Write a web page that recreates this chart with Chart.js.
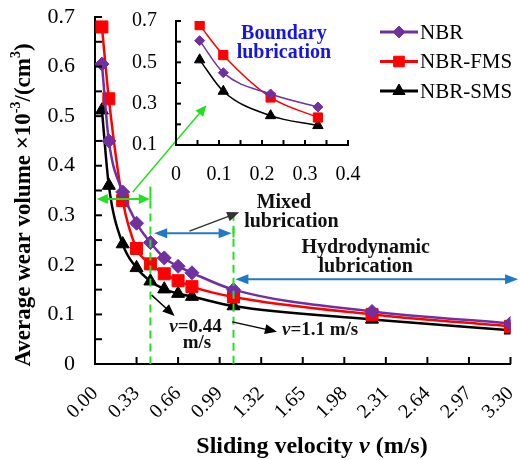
<!DOCTYPE html>
<html><head><meta charset="utf-8">
<script src="https://cdn.jsdelivr.net/npm/chart.js@4/dist/chart.umd.min.js"></script>
<style>
body{margin:0;background:#fff}
#wrap{position:relative;width:520px;height:460px}
canvas{position:absolute;left:0;top:0}
</style></head>
<body><div id="wrap"><canvas id="main" width="520" height="460"></canvas><canvas id="inset" width="520" height="460"></canvas></div>
<script>
// ---- data ----
const velocity = [0.055, 0.11, 0.22, 0.33, 0.44, 0.55, 0.66, 0.77, 1.1, 2.2, 3.3];
const nbr      = [0.605, 0.45, 0.347, 0.284, 0.245, 0.214, 0.197, 0.184, 0.150, 0.106, 0.082];
const nbrFms   = [0.680, 0.535, 0.330, 0.233, 0.202, 0.182, 0.168, 0.156, 0.135, 0.100, 0.076];
const nbrSms   = [0.512, 0.360, 0.242, 0.194, 0.167, 0.151, 0.142, 0.136, 0.117, 0.090, 0.068];
const seriesNames = ['NBR', 'NBR-FMS', 'NBR-SMS'];
const insetCount = 4; // inset shows the first four velocities
const xTickStep = 0.33;
const xMax = 3.3;
const yMax = 0.7;
const insetXMax = 0.4;
const insetYMin = 0.1;

const FONT = '"Liberation Serif","Times New Roman",serif';
const series = [
  {name: seriesNames[0], values: nbr,    color: '#7030a0', style: 'rectRot',  r: 7,   ri: 5,   lr: 6},
  {name: seriesNames[1], values: nbrFms, color: '#ff0000', style: 'rect',     r: 8.5, ri: 6.5, lr: 7.5},
  {name: seriesNames[2], values: nbrSms, color: '#000000', style: 'triangle', r: 7.5, ri: 6,   lr: 7}
];

// ---- helpers ----
function innerTicks(len) {
  return {
    id: 'innerTicks',
    afterDraw(chart) {
      const ctx = chart.ctx, a = chart.chartArea;
      ctx.save();
      ctx.strokeStyle = '#000'; ctx.lineWidth = 2;
      const xs = chart.scales.x, ys = chart.scales.y;
      xs.ticks.forEach(t => {
        const p = xs.getPixelForValue(t.value);
        ctx.beginPath(); ctx.moveTo(p, a.bottom); ctx.lineTo(p, a.bottom - len); ctx.stroke();
      });
      ys.ticks.forEach(t => {
        const p = ys.getPixelForValue(t.value);
        ctx.beginPath(); ctx.moveTo(a.left, p); ctx.lineTo(a.left + len, p); ctx.stroke();
      });
      ctx.restore();
    }
  };
}
function noPad(s) { s.paddingLeft = 0; s.paddingRight = 0; s.paddingTop = 0; s.paddingBottom = 0; }
function arrowHead(ctx, x1, y1, x2, y2, len, wid) {
  const ang = Math.atan2(y2 - y1, x2 - x1);
  ctx.beginPath();
  ctx.moveTo(x2, y2);
  ctx.lineTo(x2 - len * Math.cos(ang) + wid * Math.sin(ang), y2 - len * Math.sin(ang) - wid * Math.cos(ang));
  ctx.lineTo(x2 - len * Math.cos(ang) - wid * Math.sin(ang), y2 - len * Math.sin(ang) + wid * Math.cos(ang));
  ctx.closePath(); ctx.fill();
}
function arrow(ctx, x1, y1, x2, y2, color, lw, len, wid, both) {
  ctx.save();
  ctx.strokeStyle = color; ctx.fillStyle = color; ctx.lineWidth = lw;
  const ang = Math.atan2(y2 - y1, x2 - x1);
  const sx = both ? x1 + (len - 2) * Math.cos(ang) : x1, sy = both ? y1 + (len - 2) * Math.sin(ang) : y1;
  const ex = x2 - (len - 2) * Math.cos(ang), ey = y2 - (len - 2) * Math.sin(ang);
  ctx.beginPath(); ctx.moveTo(sx, sy); ctx.lineTo(ex, ey); ctx.stroke();
  arrowHead(ctx, x1, y1, x2, y2, len, wid);
  if (both) arrowHead(ctx, x2, y2, x1, y1, len, wid);
  ctx.restore();
}
function richText(ctx, parts, x, y, align, size, color) {
  // parts: [text, italic, sup]
  ctx.save();
  ctx.fillStyle = color; ctx.textBaseline = 'middle';
  const fontOf = p => (p[1] ? 'italic ' : '') + 'bold ' + (p[2] ? Math.round(size * 0.62) : size) + 'px ' + FONT;
  let w = 0;
  parts.forEach(p => { ctx.font = fontOf(p); w += ctx.measureText(p[0]).width; });
  let cx = align === 'center' ? x - w / 2 : x;
  ctx.textAlign = 'left';
  parts.forEach(p => {
    ctx.font = fontOf(p);
    ctx.fillText(p[0], cx, p[2] ? y - size * 0.32 : y);
    cx += ctx.measureText(p[0]).width;
  });
  ctx.restore();
  return w;
}

// ---- annotations for main chart ----
const annotations = {
  id: 'annotations',
  afterDraw(chart) {
    const ctx = chart.ctx, xs = chart.scales.x, ys = chart.scales.y;
    const X = v => xs.getPixelForValue(v), Y = v => ys.getPixelForValue(v);
    const green = '#22e022', blue = '#1f78c8', gray = '#333333';
    ctx.save();
    // dashed boundaries
    ctx.strokeStyle = green; ctx.lineWidth = 2; ctx.setLineDash([8, 5]);
    ctx.beginPath(); ctx.moveTo(X(0.44), Y(0.33)); ctx.lineTo(X(0.44), Y(0)); ctx.stroke();
    ctx.beginPath(); ctx.moveTo(X(1.1), Y(0.305)); ctx.lineTo(X(1.1), Y(0)); ctx.stroke();
    ctx.setLineDash([]);
    // solid caps on top of dashed lines
    ctx.beginPath(); ctx.moveTo(X(0.44), Y(0.358)); ctx.lineTo(X(0.44), Y(0.33)); ctx.stroke();
    ctx.beginPath(); ctx.moveTo(X(1.1), Y(0.275)); ctx.lineTo(X(1.1), Y(0.255)); ctx.stroke();
    ctx.restore();
    // green double arrow (boundary region)
    arrow(ctx, X(0.015), Y(0.333), X(0.435), Y(0.333), green, 2, 11, 5, true);
    // green arrow to inset
    arrow(ctx, X(0.30), Y(0.347), X(0.885), Y(0.522), green, 1.5, 11, 5, false);
    // blue double arrows
    arrow(ctx, X(0.47), Y(0.264), X(1.085), Y(0.264), blue, 2, 13, 5, true);
    arrow(ctx, X(1.115), Y(0.171), X(3.36), Y(0.171), blue, 2, 13, 5, true);
    // gray arrow to "Mixed lubrication"
    arrow(ctx, X(0.75), Y(0.268), X(1.145), Y(0.306), gray, 1.5, 12, 5, false);
    // black arrows for velocities
    arrow(ctx, X(0.45), Y(0.139), X(0.632), Y(0.097), '#000', 1.5, 12, 5, false);
    arrow(ctx, X(1.09), Y(0.085), X(1.445), Y(0.065), '#000', 1.5, 12, 5, false);
    // texts
    richText(ctx, [['Mixed']], X(1.5), Y(0.325), 'center', 20, '#111');
    richText(ctx, [['lubrication']], X(1.56), Y(0.287), 'center', 20, '#111');
    richText(ctx, [['Hydrodynamic']], X(2.15), Y(0.234), 'center', 20, '#111');
    richText(ctx, [['lubrication']], X(2.15), Y(0.196), 'center', 20, '#111');
    richText(ctx, [['Boundary']], X(1.5), Y(0.667), 'center', 20, '#1515e6');
    richText(ctx, [['lubrication']], X(1.5), Y(0.628), 'center', 20, '#1515e6');
    richText(ctx, [['v', true], ['=0.44']], X(0.59), Y(0.075), 'left', 19, '#111');
    richText(ctx, [['m/s']], X(0.81), Y(0.042), 'center', 19, '#111');
    richText(ctx, [['v', true], ['=1.1 m/s']], X(1.485), Y(0.069), 'left', 19, '#111');
    // axis titles
    richText(ctx, [['Sliding velocity '], ['v', true], [' (m/s)']], 312, 447, 'center', 24, '#000');
    ctx.save();
    ctx.translate(24, 205); ctx.rotate(-Math.PI / 2);
    richText(ctx, [['Average wear volume \u00d710'], ['-3', false, true], ['/(cm'], ['3', false, true], [')']], 0, 0, 'center', 23, '#000');
    ctx.restore();
    // legend
    series.forEach((s, i) => {
      const y = 32 + i * 29.5;
      ctx.save();
      ctx.strokeStyle = s.color; ctx.lineWidth = 3;
      ctx.beginPath(); ctx.moveTo(380, y); ctx.lineTo(418, y); ctx.stroke();
      ctx.fillStyle = s.color; ctx.strokeStyle = s.color; ctx.lineWidth = 1;
      Chart.helpers.drawPoint(ctx, {pointStyle: s.style, radius: s.lr, rotation: 0, borderWidth: 1}, 399, y);
      ctx.fillStyle = '#000'; ctx.font = '21px ' + FONT; ctx.textBaseline = 'middle'; ctx.textAlign = 'left';
      ctx.fillText(s.name, 420, y + 1);
      ctx.restore();
    });
  }
};

const pts = (vals, n) => vals.slice(0, n).map((v, i) => ({x: velocity[i], y: v}));

// ---- main chart ----
new Chart(document.getElementById('main'), {
  type: 'line',
  data: {
    datasets: series.map(s => ({
      label: s.name, data: pts(s.values, velocity.length),
      borderColor: s.color, backgroundColor: s.color, borderWidth: 2.5,
      pointStyle: s.style, pointRadius: s.r, pointBorderWidth: 1,
      pointBackgroundColor: s.color, pointBorderColor: s.color,
      cubicInterpolationMode: 'monotone', fill: false
    }))
  },
  options: {
    responsive: false, animation: false, devicePixelRatio: 1,
    layout: {padding: {left: 0, top: 17, right: 7, bottom: 0}},
    plugins: {legend: {display: false}, tooltip: {enabled: false}},
    scales: {
      x: {
        type: 'linear', min: 0, max: xMax,
        afterFit: s => { s.height = 96; noPad(s); },
        grid: {display: false, drawTicks: false},
        border: {display: true, color: '#000', width: 2},
        ticks: {stepSize: xTickStep, autoSkip: false, minRotation: 45, maxRotation: 45, padding: 18,
          color: '#000', font: {family: FONT, size: 20},
          callback: v => v.toFixed(2)}
      },
      y: {
        min: 0, max: yMax,
        afterFit: s => { s.width = 95; noPad(s); },
        grid: {display: false, drawTicks: false},
        border: {display: true, color: '#000', width: 2},
        ticks: {stepSize: 0.05, autoSkip: false, padding: 20, color: '#000',
          font: {family: FONT, size: 22},
          callback: v => (Math.round(v * 20) % 2 === 0 ? (Math.round(v * 10) === 0 ? '0' : v.toFixed(1)) : '')}
      }
    }
  },
  plugins: [innerTicks(7), annotations]
});

// ---- inset chart ----
new Chart(document.getElementById('inset'), {
  type: 'line',
  data: {
    datasets: series.map(s => ({
      label: s.name, data: pts(s.values, insetCount),
      borderColor: s.color, backgroundColor: s.color, borderWidth: 1.5,
      pointStyle: s.style, pointRadius: s.ri, pointBorderWidth: 1,
      pointBackgroundColor: s.color, pointBorderColor: s.color,
      cubicInterpolationMode: 'monotone', fill: false
    }))
  },
  options: {
    responsive: false, animation: false, devicePixelRatio: 1,
    layout: {padding: {left: 100, top: 21, right: 172, bottom: 275}},
    plugins: {legend: {display: false}, tooltip: {enabled: false}},
    scales: {
      x: {
        type: 'linear', min: 0, max: insetXMax,
        afterFit: s => { s.height = 40; noPad(s); },
        grid: {display: false, drawTicks: false},
        border: {display: true, color: '#000', width: 2},
        ticks: {stepSize: 0.05, autoSkip: false, maxRotation: 0, padding: 18, color: '#000',
          font: {family: FONT, size: 20},
          callback: v => (Math.round(v * 20) % 2 === 0 ? (Math.round(v * 10) === 0 ? '0' : v.toFixed(1)) : '')}
      },
      y: {
        min: insetYMin, max: yMax,
        afterFit: s => { s.width = 76; noPad(s); },
        grid: {display: false, drawTicks: false},
        border: {display: true, color: '#000', width: 2},
        ticks: {stepSize: 0.1, autoSkip: false, padding: 19, color: '#000',
          font: {family: FONT, size: 20},
          callback: v => (Math.round(v * 10) % 2 === 1 ? v.toFixed(1) : '')}
      }
    }
  },
  plugins: [innerTicks(5)]
});
</script>
</body></html>
